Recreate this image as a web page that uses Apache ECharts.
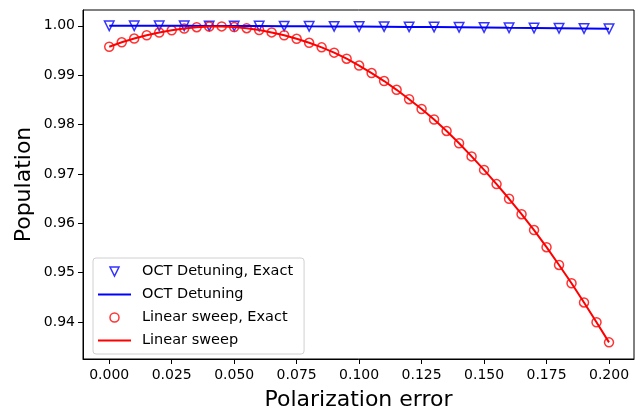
<!DOCTYPE html>
<html>
<head>
<meta charset="utf-8">
<script src="https://cdn.jsdelivr.net/npm/echarts@6/dist/echarts.min.js"></script>
<style>html,body{margin:0;padding:0;background:#fff}#c{width:641px;height:410px}</style>
</head>
<body>
<div id="c"></div>
<script>
const octX = [0,0.01,0.02,0.03,0.04,0.05,0.06,0.07,0.08,0.09,0.10,0.11,0.12,0.13,0.14,0.15,0.16,0.17,0.18,0.19,0.20];
const octExact = [1.0000,1.0000,1.0000,1.0000,0.99998,0.99996,0.99995,0.99993,0.99990,0.99988,0.99985,0.99982,0.99978,0.99975,0.99970,0.99966,0.99960,0.99956,0.99950,0.99945,0.99940];
const octLine = [1.0000,1.0000,1.0000,1.0000,0.99998,0.99996,0.99995,0.99993,0.99990,0.99988,0.99985,0.99982,0.99978,0.99975,0.99970,0.99966,0.99960,0.99956,0.99950,0.99945,0.99940];
const linX = [0,0.005,0.01,0.015,0.02,0.025,0.03,0.035,0.04,0.045,0.05,0.055,0.06,0.065,0.07,0.075,0.08,0.085,0.09,0.095,0.10,0.105,0.11,0.115,0.12,0.125,0.13,0.135,0.14,0.145,0.15,0.155,0.16,0.165,0.17,0.175,0.18,0.185,0.19,0.195,0.20];
const linExact = [0.99575,0.99666,0.99741,0.99808,0.99864,0.99909,0.99945,0.99972,0.99986,0.99988,0.99976,0.99951,0.99915,0.99866,0.99808,0.99737,0.99656,0.99563,0.99456,0.99334,0.99195,0.99043,0.98881,0.98703,0.98513,0.98315,0.98102,0.97870,0.97621,0.97354,0.97081,0.96793,0.96496,0.96184,0.95862,0.95515,0.95155,0.94784,0.94396,0.93995,0.93587];
const linLine = linExact.slice();
const xTicks = [0,0.025,0.05,0.075,0.1,0.125,0.15,0.175,0.2];
const yTicks = [0.94,0.95,0.96,0.97,0.98,0.99,1.00];
const names = ['OCT Detuning, Exact','OCT Detuning','Linear sweep, Exact','Linear sweep'];
const xLabel = 'Polarization error';
const yLabel = 'Population';

const pair = (xs, ys) => xs.map((x,i)=>[x, ys[i]]);
const FONT = 'DejaVu Sans';
const tri = 'path://M0,0 L2,0 L1,2 Z';
const bar = 'path://M0,0 L33,0 L33,2 L0,2 Z';

const chart = echarts.init(document.getElementById('c'), null, {renderer:'canvas'});
chart.setOption({
  animation:false,
  backgroundColor:'#fff',
  textStyle:{fontFamily:FONT},
  grid:{left:83, right:7, top:10, bottom:51, containLabel:false, outerBoundsMode:'none',
        show:true, borderColor:'#000', borderWidth:1, backgroundColor:'transparent'},
  legend:{
    orient:'vertical', left:93, top:258,
    itemWidth:33, itemHeight:9, itemGap:8,
    padding:[6,11,6,5],
    backgroundColor:'rgba(255,255,255,0.8)', borderColor:'#d0d0d0', borderWidth:1, borderRadius:3,
    textStyle:{fontFamily:FONT, fontSize:14.5, color:'#000', padding:[0,0,0,6]},
    data:[
      {name:names[0], icon:tri, itemStyle:{color:'rgba(0,0,0,0)', borderColor:'#0000ff', borderWidth:1.5}},
      {name:names[1], icon:bar, itemStyle:{color:'#0000ff', borderWidth:0}},
      {name:names[2], icon:'circle', itemStyle:{color:'rgba(0,0,0,0)', borderColor:'#ff0000', borderWidth:1.5}},
      {name:names[3], icon:bar, itemStyle:{color:'#ff0000', borderWidth:0}}
    ]
  },
  xAxis:{
    type:'value', min:-0.0105, max:0.21,
    name:xLabel, nameLocation:'middle', nameGap:30, nameMoveOverlap:false,
    nameTextStyle:{fontFamily:FONT, fontSize:22, color:'#000'},
    axisLine:{show:true, onZero:false, lineStyle:{color:'#000', width:1}},
    axisTick:{show:true, inside:false, length:5, customValues:xTicks, lineStyle:{color:'#000'}},
    axisLabel:{customValues:xTicks, margin:9, fontFamily:FONT, fontSize:14, color:'#000', formatter:v=>v.toFixed(3)},
    splitLine:{show:false}
  },
  yAxis:{
    type:'value', min:0.9325, max:1.0032,
    name:yLabel, nameLocation:'middle', nameGap:48, nameMoveOverlap:false,
    nameTextStyle:{fontFamily:FONT, fontSize:22, color:'#000'},
    axisLine:{show:true, onZero:false, lineStyle:{color:'#000', width:1}},
    axisTick:{show:true, inside:false, length:5, customValues:yTicks, lineStyle:{color:'#000'}},
    axisLabel:{customValues:yTicks, margin:8, fontFamily:FONT, fontSize:14, color:'#000', formatter:v=>v.toFixed(2)},
    splitLine:{show:false}
  },
  series:[
    {name:names[0], type:'scatter', data:pair(octX, octExact), symbol:tri, symbolSize:9.5,
     itemStyle:{color:'rgba(0,0,0,0)', borderColor:'#0000ff', borderWidth:1.5}},
    {name:names[1], type:'line', data:pair(octX, octLine), symbol:'none', showSymbol:false,
     lineStyle:{color:'#0000ff', width:2}, itemStyle:{color:'#0000ff'}},
    {name:names[2], type:'scatter', data:pair(linX, linExact), symbol:'circle', symbolSize:9,
     itemStyle:{color:'rgba(0,0,0,0)', borderColor:'#ff0000', borderWidth:1.5}},
    {name:names[3], type:'line', data:pair(linX, linLine), symbol:'none', showSymbol:false,
     lineStyle:{color:'#ff0000', width:2}, itemStyle:{color:'#ff0000'}}
  ]
});
</script>
</body>
</html>
